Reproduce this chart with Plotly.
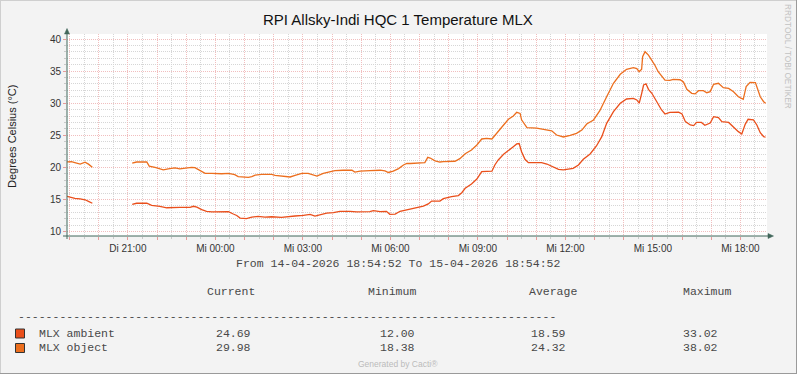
import plotly.graph_objects as go
import pandas as pd

# ---------------- data ----------------
obj_times = [
    "2026-04-14 18:55", "2026-04-14 19:04", "2026-04-14 19:11", "2026-04-14 19:22", "2026-04-14 19:32",
    "2026-04-14 19:39", "2026-04-14 19:47", "2026-04-14 20:30",
    "2026-04-14 21:09", "2026-04-14 21:18", "2026-04-14 21:39", "2026-04-14 21:44", "2026-04-14 21:56",
    "2026-04-14 22:13", "2026-04-14 22:23", "2026-04-14 22:37", "2026-04-14 22:47", "2026-04-14 23:11",
    "2026-04-14 23:18", "2026-04-14 23:28", "2026-04-14 23:39", "2026-04-14 23:53",
    "2026-04-15 00:13", "2026-04-15 00:27", "2026-04-15 00:40", "2026-04-15 00:47", "2026-04-15 01:08",
    "2026-04-15 01:15", "2026-04-15 01:22", "2026-04-15 01:35", "2026-04-15 01:56", "2026-04-15 02:03",
    "2026-04-15 02:16", "2026-04-15 02:34", "2026-04-15 02:44", "2026-04-15 02:58", "2026-04-15 03:11",
    "2026-04-15 03:22", "2026-04-15 03:29", "2026-04-15 03:42", "2026-04-15 03:52", "2026-04-15 04:06",
    "2026-04-15 04:23", "2026-04-15 04:41", "2026-04-15 04:47", "2026-04-15 04:58", "2026-04-15 05:18",
    "2026-04-15 05:39", "2026-04-15 05:49", "2026-04-15 05:56", "2026-04-15 06:06", "2026-04-15 06:17",
    "2026-04-15 06:27", "2026-04-15 06:34", "2026-04-15 06:41", "2026-04-15 07:05", "2026-04-15 07:11",
    "2026-04-15 07:17", "2026-04-15 07:22", "2026-04-15 07:32", "2026-04-15 07:42", "2026-04-15 07:49",
    "2026-04-15 08:13", "2026-04-15 08:23", "2026-04-15 08:34", "2026-04-15 08:47", "2026-04-15 08:58",
    "2026-04-15 09:08", "2026-04-15 09:18", "2026-04-15 09:29", "2026-04-15 09:35", "2026-04-15 09:42",
    "2026-04-15 09:53", "2026-04-15 10:03", "2026-04-15 10:13", "2026-04-15 10:20", "2026-04-15 10:27",
    "2026-04-15 10:30", "2026-04-15 10:37", "2026-04-15 10:41", "2026-04-15 11:01", "2026-04-15 11:22",
    "2026-04-15 11:32", "2026-04-15 11:42", "2026-04-15 11:56", "2026-04-15 12:10", "2026-04-15 12:23",
    "2026-04-15 12:34", "2026-04-15 12:44", "2026-04-15 12:58", "2026-04-15 13:11", "2026-04-15 13:25",
    "2026-04-15 13:39", "2026-04-15 13:53", "2026-04-15 14:06", "2026-04-15 14:20", "2026-04-15 14:27",
    "2026-04-15 14:32", "2026-04-15 14:37", "2026-04-15 14:39", "2026-04-15 14:44", "2026-04-15 14:51",
    "2026-04-15 14:58", "2026-04-15 15:04", "2026-04-15 15:11", "2026-04-15 15:18", "2026-04-15 15:25",
    "2026-04-15 15:35", "2026-04-15 15:42", "2026-04-15 15:56", "2026-04-15 16:03", "2026-04-15 16:10",
    "2026-04-15 16:20", "2026-04-15 16:27", "2026-04-15 16:34", "2026-04-15 16:44", "2026-04-15 16:51",
    "2026-04-15 16:58", "2026-04-15 17:05", "2026-04-15 17:15", "2026-04-15 17:25", "2026-04-15 17:36",
    "2026-04-15 17:46", "2026-04-15 17:56", "2026-04-15 18:06", "2026-04-15 18:12", "2026-04-15 18:20",
    "2026-04-15 18:31", "2026-04-15 18:35", "2026-04-15 18:41", "2026-04-15 18:48", "2026-04-15 18:52",
]
obj_values = [
    20.85, 20.9, 20.75, 20.5, 20.8, 20.5, 20.0, None,
    20.65, 20.83, 20.83, 20.2, 20.0, 19.6, 19.75, 19.9, 19.75, 20.0, 19.95, 19.48, 19.07, 19.07,
    19.0, 19.07, 18.85, 18.55, 18.45, 18.55, 18.8, 18.9, 18.9, 18.75, 18.65, 18.5, 18.75, 19.07, 19.07,
    18.76, 18.65, 19.07, 19.27, 19.48, 19.55, 19.55, 19.25, 19.4, 19.48, 19.55, 19.45, 19.2, 19.4, 19.8,
    20.36, 20.6, 20.6, 20.7, 20.75, 21.56, 21.45, 21.0, 20.83, 20.9, 20.95, 21.35, 22.13, 22.7, 23.48,
    24.42, 24.5, 24.42, 24.93, 25.66, 26.6, 27.49, 28.0, 28.57, 28.4, 27.4, 26.6, 26.18, 26.1, 25.82,
    25.7, 25.04, 24.73, 25.0, 25.3, 25.8, 26.75, 27.38, 28.83, 31.0, 33.1, 34.5, 35.28, 35.53, 35.4,
    34.9, 35.3, 37.24, 38.02, 37.5, 36.73, 35.95, 34.9, 34.23, 33.6, 33.55, 33.7, 33.65, 33.3, 32.16,
    31.54, 31.45, 31.95, 31.95, 31.63, 31.8, 32.94, 33.1, 32.41, 32.3, 31.79, 31.0, 30.6, 32.57, 33.25,
    33.2, 32.4, 31.0, 30.23, 29.98,
]

amb_times = [
    "2026-04-14 18:55", "2026-04-14 19:04", "2026-04-14 19:11", "2026-04-14 19:22", "2026-04-14 19:32",
    "2026-04-14 19:39", "2026-04-14 19:47", "2026-04-14 20:30",
    "2026-04-14 21:09", "2026-04-14 21:18", "2026-04-14 21:39", "2026-04-14 21:49", "2026-04-14 22:06",
    "2026-04-14 22:20", "2026-04-14 22:47", "2026-04-14 23:08", "2026-04-14 23:15", "2026-04-14 23:22",
    "2026-04-14 23:32", "2026-04-14 23:42", "2026-04-14 23:53",
    "2026-04-15 00:20", "2026-04-15 00:27", "2026-04-15 00:37", "2026-04-15 00:44", "2026-04-15 00:51",
    "2026-04-15 01:04", "2026-04-15 01:15", "2026-04-15 01:28", "2026-04-15 01:42", "2026-04-15 01:56",
    "2026-04-15 02:16", "2026-04-15 02:30", "2026-04-15 02:44", "2026-04-15 03:01", "2026-04-15 03:15",
    "2026-04-15 03:25", "2026-04-15 03:35", "2026-04-15 03:49", "2026-04-15 04:03", "2026-04-15 04:16",
    "2026-04-15 04:37", "2026-04-15 04:51", "2026-04-15 05:18", "2026-04-15 05:25", "2026-04-15 05:39",
    "2026-04-15 05:52", "2026-04-15 05:59", "2026-04-15 06:10", "2026-04-15 06:20", "2026-04-15 06:30",
    "2026-04-15 06:41", "2026-04-15 06:51", "2026-04-15 07:08", "2026-04-15 07:18", "2026-04-15 07:25",
    "2026-04-15 07:42", "2026-04-15 07:49", "2026-04-15 08:06", "2026-04-15 08:20", "2026-04-15 08:27",
    "2026-04-15 08:34", "2026-04-15 08:47", "2026-04-15 08:58", "2026-04-15 09:08", "2026-04-15 09:29",
    "2026-04-15 09:35", "2026-04-15 09:42", "2026-04-15 09:53", "2026-04-15 10:03", "2026-04-15 10:13",
    "2026-04-15 10:20", "2026-04-15 10:25", "2026-04-15 10:30", "2026-04-15 10:37", "2026-04-15 10:44",
    "2026-04-15 11:11", "2026-04-15 11:22", "2026-04-15 11:36", "2026-04-15 11:46", "2026-04-15 11:56",
    "2026-04-15 12:16", "2026-04-15 12:27", "2026-04-15 12:37", "2026-04-15 12:51", "2026-04-15 13:04",
    "2026-04-15 13:15", "2026-04-15 13:25", "2026-04-15 13:39", "2026-04-15 13:53", "2026-04-15 14:06",
    "2026-04-15 14:20", "2026-04-15 14:27", "2026-04-15 14:32", "2026-04-15 14:37", "2026-04-15 14:41",
    "2026-04-15 14:46", "2026-04-15 14:51", "2026-04-15 14:58", "2026-04-15 15:04", "2026-04-15 15:11",
    "2026-04-15 15:18", "2026-04-15 15:25", "2026-04-15 15:35", "2026-04-15 15:53", "2026-04-15 16:00",
    "2026-04-15 16:07", "2026-04-15 16:17", "2026-04-15 16:24", "2026-04-15 16:30", "2026-04-15 16:40",
    "2026-04-15 16:47", "2026-04-15 16:58", "2026-04-15 17:05", "2026-04-15 17:15", "2026-04-15 17:22",
    "2026-04-15 17:36", "2026-04-15 17:46", "2026-04-15 17:56", "2026-04-15 18:03", "2026-04-15 18:10",
    "2026-04-15 18:16", "2026-04-15 18:27", "2026-04-15 18:34", "2026-04-15 18:41", "2026-04-15 18:48",
    "2026-04-15 18:52",
]
amb_values = [
    15.49, 15.35, 15.15, 15.1, 14.95, 14.7, 14.4, None,
    14.24, 14.4, 14.4, 14.07, 13.9, 13.7, 13.75, 13.77, 13.93, 13.8, 13.4, 13.15, 13.05,
    13.05, 13.1, 12.73, 12.5, 12.1, 12.0, 12.25, 12.35, 12.25, 12.3, 12.2, 12.35, 12.42, 12.5, 12.68,
    12.4, 12.6, 12.88, 12.95, 13.15, 13.15, 13.05, 13.1, 13.25, 13.1, 13.15, 12.68, 12.7, 13.15, 13.3,
    13.5, 13.66, 13.97, 14.3, 14.75, 14.75, 15.11, 15.43, 15.6, 16.05, 16.73, 17.4, 18.18, 19.32, 19.4,
    20.37, 21.15, 22.03, 22.7, 23.22, 23.64, 23.7, 22.44, 21.25, 20.73, 20.73, 20.52, 20.1, 19.69, 19.6,
    19.85, 20.37, 21.25, 22.08, 23.33, 24.78, 26.86, 28.68, 29.98, 30.65, 30.76, 30.5, 30.0, 31.5, 32.83,
    33.02, 32.16, 31.54, 30.76, 29.98, 28.94, 28.31, 28.57, 28.6, 28.31, 27.12, 26.6, 26.5, 27.0, 27.0,
    26.55, 26.9, 27.9, 27.75, 27.12, 27.0, 26.24, 25.56, 25.2, 26.7, 27.49, 27.4, 26.6, 25.4, 24.78,
    24.69,
]

series_names = ["MLX ambient", "MLX object"]
series_colors = ["#EA4F1B", "#EC6E1E"]
stat_headers = ["Current", "Minimum", "Average", "Maximum"]
amb_stats = ["24.69", "12.00", "18.59", "33.02"]
obj_stats = ["29.98", "18.38", "24.32", "38.02"]

x_start = "2026-04-14 18:54:52"
x_end = "2026-04-15 18:54:52"
y_range = [9.3, 40.78]

title_text = "RPI Allsky-Indi HQC 1 Temperature MLX"
y_title = "Degrees Celsius (°C)"
period_text = "From 14-04-2026 18:54:52 To 15-04-2026 18:54:52"

# ---------------- layout geometry (pixels) ----------------
W, H = 797, 374
L, R, T, B = 67, 767, 34, 236


def px(x):
    return (x - L) / (R - L)


def py(y):
    return (B - y) / (B - T)


SANS = "Liberation Sans"
MONO = "Liberation Mono"
MAJOR = "#F1BEBE"
MINOR = "#D6D6D6"
AXIS = "#41665A"
TXT = "#484848"

fig = go.Figure()
fig.add_trace(go.Scatter(x=amb_times, y=amb_values, mode="lines", name=series_names[0],
                         line=dict(color=series_colors[0], width=1.3), connectgaps=False,
                         showlegend=False))
fig.add_trace(go.Scatter(x=obj_times, y=obj_values, mode="lines", name=series_names[1],
                         line=dict(color=series_colors[1], width=1.3), connectgaps=False,
                         showlegend=False))

hours = pd.date_range("2026-04-14 19:00", "2026-04-15 18:00", freq="1h")
halves = pd.date_range("2026-04-14 19:30", "2026-04-15 18:30", freq="1h")
day_abbr = {1: "Di", 2: "Mi"}
tick_text = [f"{day_abbr[h.dayofweek]} {h:%H:%M}" if h.hour % 3 == 0 else "" for h in hours]

fig.update_xaxes(
    type="date", range=[x_start, x_end],
    tickmode="array", tickvals=list(hours), ticktext=tick_text,
    showgrid=True, gridcolor=MAJOR, griddash="1px,1px", gridwidth=1,
    ticks="outside", ticklen=3, tickcolor="#E79A9A", tickwidth=1,
    tickfont=dict(family=SANS, size=10, color="#333"),
    showline=False, zeroline=False,
    minor=dict(tickmode="array", tickvals=list(halves), showgrid=True, gridcolor=MINOR,
               griddash="1px,1px", ticks="outside", ticklen=2, tickcolor="#C8C8C8"),
)
fig.update_yaxes(
    range=y_range, tickmode="linear", tick0=10, dtick=5,
    showgrid=True, gridcolor=MAJOR, griddash="1px,1px", gridwidth=1,
    ticks="outside", ticklen=3, tickcolor="#E79A9A",
    tickfont=dict(family=SANS, size=10, color="#333"),
    showline=False, zeroline=False,
    minor=dict(tick0=10, dtick=1, showgrid=True, gridcolor=MINOR, griddash="1px,1px",
               ticks="outside", ticklen=2, tickcolor="#C8C8C8"),
)

shapes = []
# outer frame
shapes.append(dict(type="line", xref="paper", yref="paper", x0=px(0), x1=px(W), y0=py(0.5), y1=py(0.5),
                   line=dict(color="#CFCFCF", width=1)))
shapes.append(dict(type="line", xref="paper", yref="paper", x0=px(0.5), x1=px(0.5), y0=py(0), y1=py(H),
                   line=dict(color="#CFCFCF", width=1)))
shapes.append(dict(type="line", xref="paper", yref="paper", x0=px(W - 0.5), x1=px(W - 0.5), y0=py(0), y1=py(H),
                   line=dict(color="#9A9A9A", width=1)))
shapes.append(dict(type="line", xref="paper", yref="paper", x0=px(0), x1=px(W), y0=py(H - 0.5), y1=py(H - 0.5),
                   line=dict(color="#9A9A9A", width=1)))
# axis lines + arrows
shapes.append(dict(type="line", xref="paper", yref="paper", x0=px(63), x1=px(769), y0=py(236), y1=py(236),
                   line=dict(color=AXIS, width=1)))
shapes.append(dict(type="line", xref="paper", yref="paper", x0=px(67), x1=px(67), y0=py(239), y1=py(33),
                   line=dict(color=AXIS, width=1)))
shapes.append(dict(type="path", xref="paper", yref="paper",
                   path=f"M {px(64.5)},{py(34)} L {px(67)},{py(28.5)} L {px(69.5)},{py(34)} Z",
                   fillcolor=AXIS, line=dict(color=AXIS, width=0.5)))
shapes.append(dict(type="path", xref="paper", yref="paper",
                   path=f"M {px(768)},{py(233.5)} L {px(773.5)},{py(236)} L {px(768)},{py(238.5)} Z",
                   fillcolor=AXIS, line=dict(color=AXIS, width=0.5)))
# legend swatches
for i, col in enumerate(series_colors):
    y0 = 329 + i * 14.5
    shapes.append(dict(type="rect", xref="paper", yref="paper", x0=px(15.5), x1=px(24.5),
                       y0=py(y0), y1=py(y0 + 9), fillcolor=col, line=dict(color="#333", width=1)))

ann = []
ann.append(dict(text=title_text, x=px(398), y=py(20), xanchor="center", yanchor="middle",
                font=dict(family=SANS, size=15, color="#111")))
ann.append(dict(text=y_title, x=px(12), y=py(137), xanchor="center", yanchor="middle", textangle=-90,
                font=dict(family=SANS, size=11, color="#222")))
ann.append(dict(text="RRDTOOL / TOBI OETIKER", x=px(788), y=py(56), xanchor="center", yanchor="middle",
                textangle=90, font=dict(family=SANS, size=8.3, color="#C2C2C2")))
ann.append(dict(text=period_text, x=px(398), y=py(263), xanchor="center", yanchor="middle",
                font=dict(family=MONO, size=11.5, color=TXT)))
header_x = [205, 366, 527, 681]
for hx, h in zip(header_x, stat_headers):
    ann.append(dict(text=h, x=px(hx), y=py(291), xanchor="left", yanchor="middle",
                    font=dict(family=MONO, size=11.5, color=TXT)))
ann.append(dict(text="-" * 78, x=px(16), y=py(316), xanchor="left", yanchor="middle",
                font=dict(family=MONO, size=11.5, color=TXT)))
val_x = [214, 378, 529, 681]
for i, (name, stats) in enumerate(zip(series_names, [amb_stats, obj_stats])):
    yy = 333 + i * 14.5
    ann.append(dict(text=name, x=px(37), y=py(yy), xanchor="left", yanchor="middle",
                    font=dict(family=MONO, size=11.5, color=TXT)))
    for vx, v in zip(val_x, stats):
        ann.append(dict(text=v, x=px(vx), y=py(yy), xanchor="left", yanchor="middle",
                        font=dict(family=MONO, size=11.5, color=TXT)))
ann.append(dict(text="Generated by Cacti®", x=px(398), y=py(364), xanchor="center", yanchor="middle",
                font=dict(family=SANS, size=8.5, color="#BBBBBB")))
for a in ann:
    a.update(xref="paper", yref="paper", showarrow=False)

fig.update_layout(
    width=W, height=H, autosize=False,
    margin=dict(l=L, r=W - R, t=T, b=H - B, pad=0),
    paper_bgcolor="#F3F3F3", plot_bgcolor="#FFFFFF",
    shapes=shapes, annotations=ann, showlegend=False,
)

fig.write_html("out.html", config={"displayModeBar": False},
               post_script="document.body.style.margin='0';document.body.style.padding='0';")
